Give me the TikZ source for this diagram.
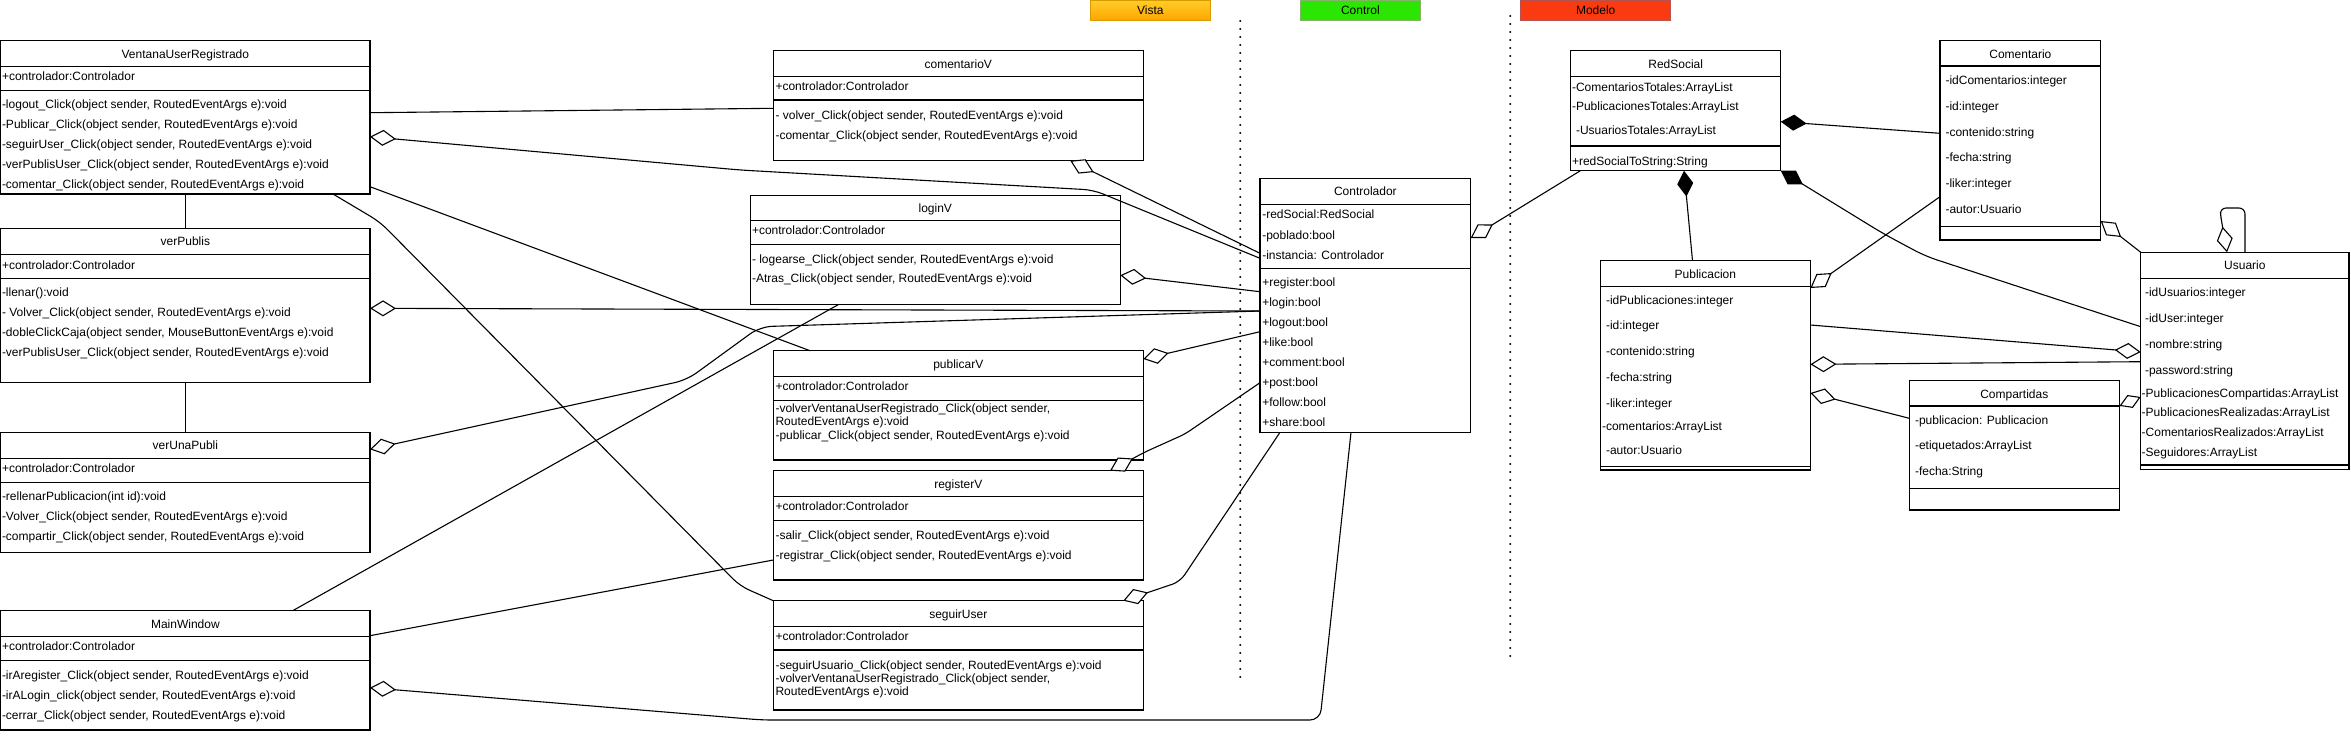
\documentclass[tikz,border=0pt]{standalone}
\usepackage{fontspec}
\setmainfont{Liberation Sans}
\usetikzlibrary{arrows.meta,calc}
\definecolor{vistaTop}{HTML}{FFCD28}
\definecolor{vistaBot}{HTML}{FFA500}
\definecolor{vistaLine}{HTML}{D79B00}
\definecolor{ctrlFill}{HTML}{2AE600}
\definecolor{ctrlLine}{HTML}{82B366}
\definecolor{modFill}{HTML}{FA3A10}
\definecolor{modLine}{HTML}{B85450}
\tikzset{
 clsbox/.style={draw=black,line width=1.1pt,fill=white,outer sep=0pt,inner sep=0pt},
 txt/.style={inner sep=0pt,outer sep=0pt,font=\fontsize{12}{14}\selectfont},
 conn/.style={draw=black,line width=1.1pt},
 agg/.style={conn,{Diamond[fill=white,length=26pt,width=16pt]}-},
 aggend/.style={conn,-{Diamond[fill=white,length=26pt,width=16pt]}},
 comp/.style={conn,{Diamond[length=26pt,width=16pt]}-},
 dotline/.style={line width=2.2pt,dash pattern=on 0pt off 8pt,line cap=round},
 lbl/.style={txt,minimum height=20pt,line width=1pt,anchor=north west}
}
\newcommand{\umlbox}[5]{\node[clsbox,minimum width=#4pt,minimum height=#5pt,anchor=north west] (#1) at (#2,#3) {};}
\newcommand{\umldiv}[2]{\draw[line width=1.1pt] ($(#1.north west)+(0,#2)$) -- ($(#1.north east)+(0,#2)$);}
\newcommand{\umlttl}[2]{\node[txt,anchor=base] (#1-t) at ($(#1.north)+(0,17.4)$) {#2};}
\newcommand{\umlrow}[4]{\node[txt,anchor=base west] (#1) at (#2,{#3+4.2}) {#4};}
\begin{document}
\begin{tikzpicture}[x=1pt,y=-1pt]
\fill[white] (0,0) rectangle (2351,748);
\useasboundingbox (0,0) rectangle (2351,748);

% ---------- layer labels ----------
\node[lbl,top color=vistaTop,bottom color=vistaBot,draw=vistaLine,minimum width=120.7pt] (vista) at (1090,0.7) {Vista};
\node[lbl,fill=ctrlFill,draw=ctrlLine,minimum width=120.7pt] (control) at (1300,0.7) {Control};
\node[lbl,fill=modFill,draw=modLine,minimum width=150pt] (modelo) at (1520.7,0.7) {Modelo};

\draw[dotline] (1240.3,21) -- (1240.3,677);
\draw[dotline] (1510.3,16) -- (1510.3,657);

% ---------- Vista classes ----------
\umlbox{vur}{0.7}{40.7}{369.3}{153.3}
\umldiv{vur}{26}\umldiv{vur}{50}
\umlttl{vur}{VentanaUserRegistrado}
\umlrow{vur-a}{2}{76.7}{+controlador:Controlador}
\umlrow{vur-m1}{2}{104.3}{-logout\_Click(object sender, RoutedEventArgs e):void}
\umlrow{vur-m2}{2}{124.5}{-Publicar\_Click(object sender, RoutedEventArgs e):void}
\umlrow{vur-m3}{2}{144.7}{-seguirUser\_Click(object sender, RoutedEventArgs e):void}
\umlrow{vur-m4}{2}{164.5}{-verPublisUser\_Click(object sender, RoutedEventArgs e):void}
\umlrow{vur-m5}{2}{184.7}{-comentar\_Click(object sender, RoutedEventArgs e):void}

\umlbox{verpublis}{0.7}{228.3}{369.3}{154}
\umldiv{verpublis}{26}\umldiv{verpublis}{50}
\umlttl{verpublis}{verPublis}
\umlrow{vp-a}{2}{265}{+controlador:Controlador}
\umlrow{vp-m1}{2}{292.3}{-llenar():void}
\umlrow{vp-m2}{2}{312.3}{- Volver\_Click(object sender, RoutedEventArgs e):void}
\umlrow{vp-m3}{2}{332.7}{-dobleClickCaja(object sender, MouseButtonEventArgs e):void}
\umlrow{vp-m4}{2}{352.7}{-verPublisUser\_Click(object sender, RoutedEventArgs e):void}

\umlbox{verunapubli}{0.7}{432.3}{369.3}{120}
\umldiv{verunapubli}{26}\umldiv{verunapubli}{50}
\umlttl{verunapubli}{verUnaPubli}
\umlrow{vu-a}{2}{468.3}{+controlador:Controlador}
\umlrow{vu-m1}{2}{496.7}{-rellenarPublicacion(int id):void}
\umlrow{vu-m2}{2}{516.7}{-Volver\_Click(object sender, RoutedEventArgs e):void}
\umlrow{vu-m3}{2}{536.7}{-compartir\_Click(object sender, RoutedEventArgs e):void}

\umlbox{mainwin}{0.7}{610.7}{369.3}{119.3}
\umldiv{mainwin}{26}\umldiv{mainwin}{50}
\umlttl{mainwin}{MainWindow}
\umlrow{mw-a}{2}{646.7}{+controlador:Controlador}
\umlrow{mw-m1}{2}{675}{-irAregister\_Click(object sender, RoutedEventArgs e):void}
\umlrow{mw-m2}{2}{695}{-irALogin\_click(object sender, RoutedEventArgs e):void}
\umlrow{mw-m3}{2}{715}{-cerrar\_Click(object sender, RoutedEventArgs e):void}

\umlbox{comentariov}{773.3}{50.7}{370}{110}
\umldiv{comentariov}{26}\umldiv{comentariov}{49.3}
\umlttl{comentariov}{comentarioV}
\umlrow{cv-a}{775.5}{86.7}{+controlador:Controlador}
\umlrow{cv-m1}{775.5}{115}{- volver\_Click(object sender, RoutedEventArgs e):void}
\umlrow{cv-m2}{775.5}{135}{-comentar\_Click(object sender, RoutedEventArgs e):void}

\umlbox{loginv}{750.3}{195.3}{370}{109.3}
\umldiv{loginv}{25.5}\umldiv{loginv}{49}
\umlttl{loginv}{loginV}
\umlrow{lv-a}{752}{230.7}{+controlador:Controlador}
\umlrow{lv-m1}{752}{259}{- logearse\_Click(object sender, RoutedEventArgs e):void}
\umlrow{lv-m2}{752}{278.3}{-Atras\_Click(object sender, RoutedEventArgs e):void}

\umlbox{publicarv}{773.3}{350.7}{370}{109.3}
\umldiv{publicarv}{26}\umldiv{publicarv}{50}
\umlttl{publicarv}{publicarV}
\umlrow{pv-a}{775.5}{386.7}{+controlador:Controlador}
\umlrow{pv-m1}{775.5}{408.3}{-volverVentanaUserRegistrado\_Click(object sender,}
\umlrow{pv-m1b}{775.5}{421.7}{RoutedEventArgs e):void}
\umlrow{pv-m2}{775.5}{435}{-publicar\_Click(object sender, RoutedEventArgs e):void}

\umlbox{registerv}{773.3}{470.7}{370}{109.3}
\umldiv{registerv}{26}\umldiv{registerv}{50}
\umlttl{registerv}{registerV}
\umlrow{rv-a}{775.5}{506.7}{+controlador:Controlador}
\umlrow{rv-m1}{775.5}{535}{-salir\_Click(object sender, RoutedEventArgs e):void}
\umlrow{rv-m2}{775.5}{555}{-registrar\_Click(object sender, RoutedEventArgs e):void}

\umlbox{seguiruser}{773.3}{600.7}{370}{109.3}
\umldiv{seguiruser}{26}\umldiv{seguiruser}{49.3}
\umlttl{seguiruser}{seguirUser}
\umlrow{su-a}{775.5}{636.7}{+controlador:Controlador}
\umlrow{su-m1}{775.5}{665}{-seguirUsuario\_Click(object sender, RoutedEventArgs e):void}
\umlrow{su-m2}{775.5}{678.3}{-volverVentanaUserRegistrado\_Click(object sender,}
\umlrow{su-m2b}{775.5}{691.7}{RoutedEventArgs e):void}

% ---------- Control ----------
\umlbox{controlador}{1260}{178.3}{210.7}{254}
\umldiv{controlador}{26}\umldiv{controlador}{90}
\umlttl{controlador}{Controlador}
\umlrow{co-a1}{1262.3}{214.3}{-redSocial:RedSocial}
\umlrow{co-a2}{1262.3}{235}{-poblado:bool}
\umlrow{co-a3}{1262.3}{255}{-instancia: Controlador}
\umlrow{co-m1}{1262.3}{282.7}{+register:bool}
\umlrow{co-m2}{1262.3}{302.7}{+login:bool}
\umlrow{co-m3}{1262.3}{322.7}{+logout:bool}
\umlrow{co-m4}{1262.3}{342.7}{+like:bool}
\umlrow{co-m5}{1262.3}{362.7}{+comment:bool}
\umlrow{co-m6}{1262.3}{382.7}{+post:bool}
\umlrow{co-m7}{1262.3}{402.7}{+follow:bool}
\umlrow{co-m8}{1262.3}{422.7}{+share:bool}

% ---------- Modelo ----------
\umlbox{redsocial}{1570.7}{50.7}{210}{120}
\umldiv{redsocial}{26}\umldiv{redsocial}{95.3}
\umlttl{redsocial}{RedSocial}
\umlrow{rs-a1}{1572}{87.3}{-ComentariosTotales:ArrayList}
\umlrow{rs-a2}{1572}{106.7}{-PublicacionesTotales:ArrayList}
\umlrow{rs-a3}{1576}{130}{-UsuariosTotales:ArrayList}
\umlrow{rs-m1}{1572}{161.7}{+redSocialToString:String}

\umlbox{comentario}{1940}{40.7}{160.7}{199.3}
\umldiv{comentario}{25.3}\umldiv{comentario}{186}
\umlttl{comentario}{Comentario}
\umlrow{cm-a1}{1945.5}{80}{-idComentarios:integer}
\umlrow{cm-a2}{1945.5}{106}{-id:integer}
\umlrow{cm-a3}{1945.5}{132}{-contenido:string}
\umlrow{cm-a4}{1945.5}{157.3}{-fecha:string}
\umlrow{cm-a5}{1945.5}{183.3}{-liker:integer}
\umlrow{cm-a6}{1945.5}{209.3}{-autor:Usuario}

\umlbox{publicacion}{1600.4}{260.7}{210}{209.3}
\umldiv{publicacion}{26}\umldiv{publicacion}{206}
\umlttl{publicacion}{Publicacion}
\umlrow{pu-a1}{1606}{300}{-idPublicaciones:integer}
\umlrow{pu-a2}{1606}{325.7}{-id:integer}
\umlrow{pu-a3}{1606}{351.7}{-contenido:string}
\umlrow{pu-a4}{1606}{377.3}{-fecha:string}
\umlrow{pu-a5}{1606}{403.3}{-liker:integer}
\umlrow{pu-a6}{1602}{426.7}{-comentarios:ArrayList}
\umlrow{pu-a7}{1606}{450}{-autor:Usuario}

\umlbox{compartidas}{1909.3}{380.7}{210}{129.3}
\umldiv{compartidas}{25.3}\umldiv{compartidas}{107.6}
\umlttl{compartidas}{Compartidas}
\umlrow{cp-a1}{1915}{420}{-publicacion: Publicacion}
\umlrow{cp-a2}{1915}{445.7}{-etiquetados:ArrayList}
\umlrow{cp-a3}{1915}{471.7}{-fecha:String}

\umlbox{usuario}{2140.7}{252.3}{208.3}{217}
\umldiv{usuario}{26}\umldiv{usuario}{212.7}
\umlttl{usuario}{Usuario}
\umlrow{us-a1}{2145}{292.7}{-idUsuarios:integer}
\umlrow{us-a2}{2145}{318.3}{-idUser:integer}
\umlrow{us-a3}{2145}{344.3}{-nombre:string}
\umlrow{us-a4}{2145}{370}{-password:string}
\umlrow{us-a5}{2141.7}{393.3}{-PublicacionesCompartidas:ArrayList}
\umlrow{us-a6}{2141.7}{412.7}{-PublicacionesRealizadas:ArrayList}
\umlrow{us-a7}{2141.7}{432.7}{-ComentariosRealizados:ArrayList}
\umlrow{us-a8}{2141.7}{452.3}{-Seguidores:ArrayList}

% ---------- connectors: Vista side ----------
\draw[conn] (vur.south) -- (verpublis.north);
\draw[conn] (verpublis.south) -- (verunapubli.north);
\draw[conn] ($(vur.north east)+(0,72)$) -- ($(comentariov.north west)+(0,57.6)$);
\draw[agg,rounded corners=10pt] ($(vur.north east)+(0,96)$) -- (740,170) -- (1093.3,190) -- ($(controlador.north west)+(0,80)$);
\draw[agg] ($(comentariov.south west)+(297,0)$) -- ($(controlador.north west)+(0,75)$);
\draw[agg] ($(loginv.north east)+(0,80)$) -- ($(controlador.north west)+(0,113.4)$);
\draw[agg] ($(verpublis.north east)+(0,80)$) -- ($(controlador.north west)+(0,132.7)$);
\draw[agg,rounded corners=12pt] ($(verunapubli.north east)+(0,17)$) -- (686.7,380) -- (760,326.7) -- ($(controlador.north west)+(0,132.7)$);
\draw[conn] ($(vur.north east)+(0,146)$) -- ($(publicarv.north west)+(36.7,0)$);
\draw[agg] ($(publicarv.north east)+(0,8.3)$) -- ($(controlador.north west)+(0,153.4)$);
\draw[agg,rounded corners=6pt] ($(registerv.north west)+(336.7,0)$) -- (1145,452) -- (1185,434) -- ($(controlador.north west)+(0,204.4)$);
\draw[agg,rounded corners=8pt] ($(seguiruser.north west)+(350,0)$) -- (1180,581.7) -- ($(controlador.south west)+(20,0)$);
\draw[conn] ($(mainwin.north west)+(292,0)$) -- ($(loginv.south west)+(88,0)$);
\draw[conn] ($(mainwin.north east)+(0,25)$) -- ($(registerv.north west)+(0,89.3)$);
\draw[agg,rounded corners=10pt] ($(mainwin.north east)+(0,77)$) -- (762,720) -- (1320,720) -- ($(controlador.south west)+(91,0)$);
\draw[conn,rounded corners=10pt] ($(vur.south west)+(332.3,0)$) -- (380,222) -- (740,586) -- (seguiruser.north west);

% ---------- connectors: Modelo side ----------
\draw[agg] ($(controlador.north east)+(0,59.7)$) -- ($(redsocial.south west)+(9.7,0)$);
\draw[comp] ($(redsocial.north east)+(0,71)$) -- ($(comentario.north west)+(0,92.6)$);
\draw[comp] ($(redsocial.south west)+(113.3,0)$) -- ($(publicacion.north west)+(92.1,0)$);
\draw[comp,rounded corners=12pt] (redsocial.south east) -- (1882.7,233.3) -- (1925,256) -- ($(usuario.north west)+(0,74.4)$);
\draw[agg] ($(publicacion.north east)+(0,27.3)$) -- ($(comentario.north west)+(0,156)$);
\draw[aggend] ($(publicacion.north east)+(0,64.3)$) -- ($(usuario.north west)+(0,99.7)$);
\draw[agg] ($(publicacion.north east)+(0,103.6)$) -- ($(usuario.north west)+(0,109.4)$);
\draw[agg] ($(publicacion.north east)+(0,132.3)$) -- ($(compartidas.north west)+(0,37.6)$);
\draw[agg] ($(comentario.north east)+(0,180.3)$) -- (usuario.north west);
\draw[conn,{Diamond[fill=white,length=23pt,width=14pt]}-] ($(usuario.north west)+(0,144.7)$) -- ($(compartidas.north east)+(0,25.3)$);
\draw[agg,rounded corners=6pt] ($(usuario.north west)+(86.3,0)$) -- (2221,218) -- (2220,208) -- (2245,208) -- ($(usuario.north west)+(104.3,0)$);
\end{tikzpicture}
\end{document}
